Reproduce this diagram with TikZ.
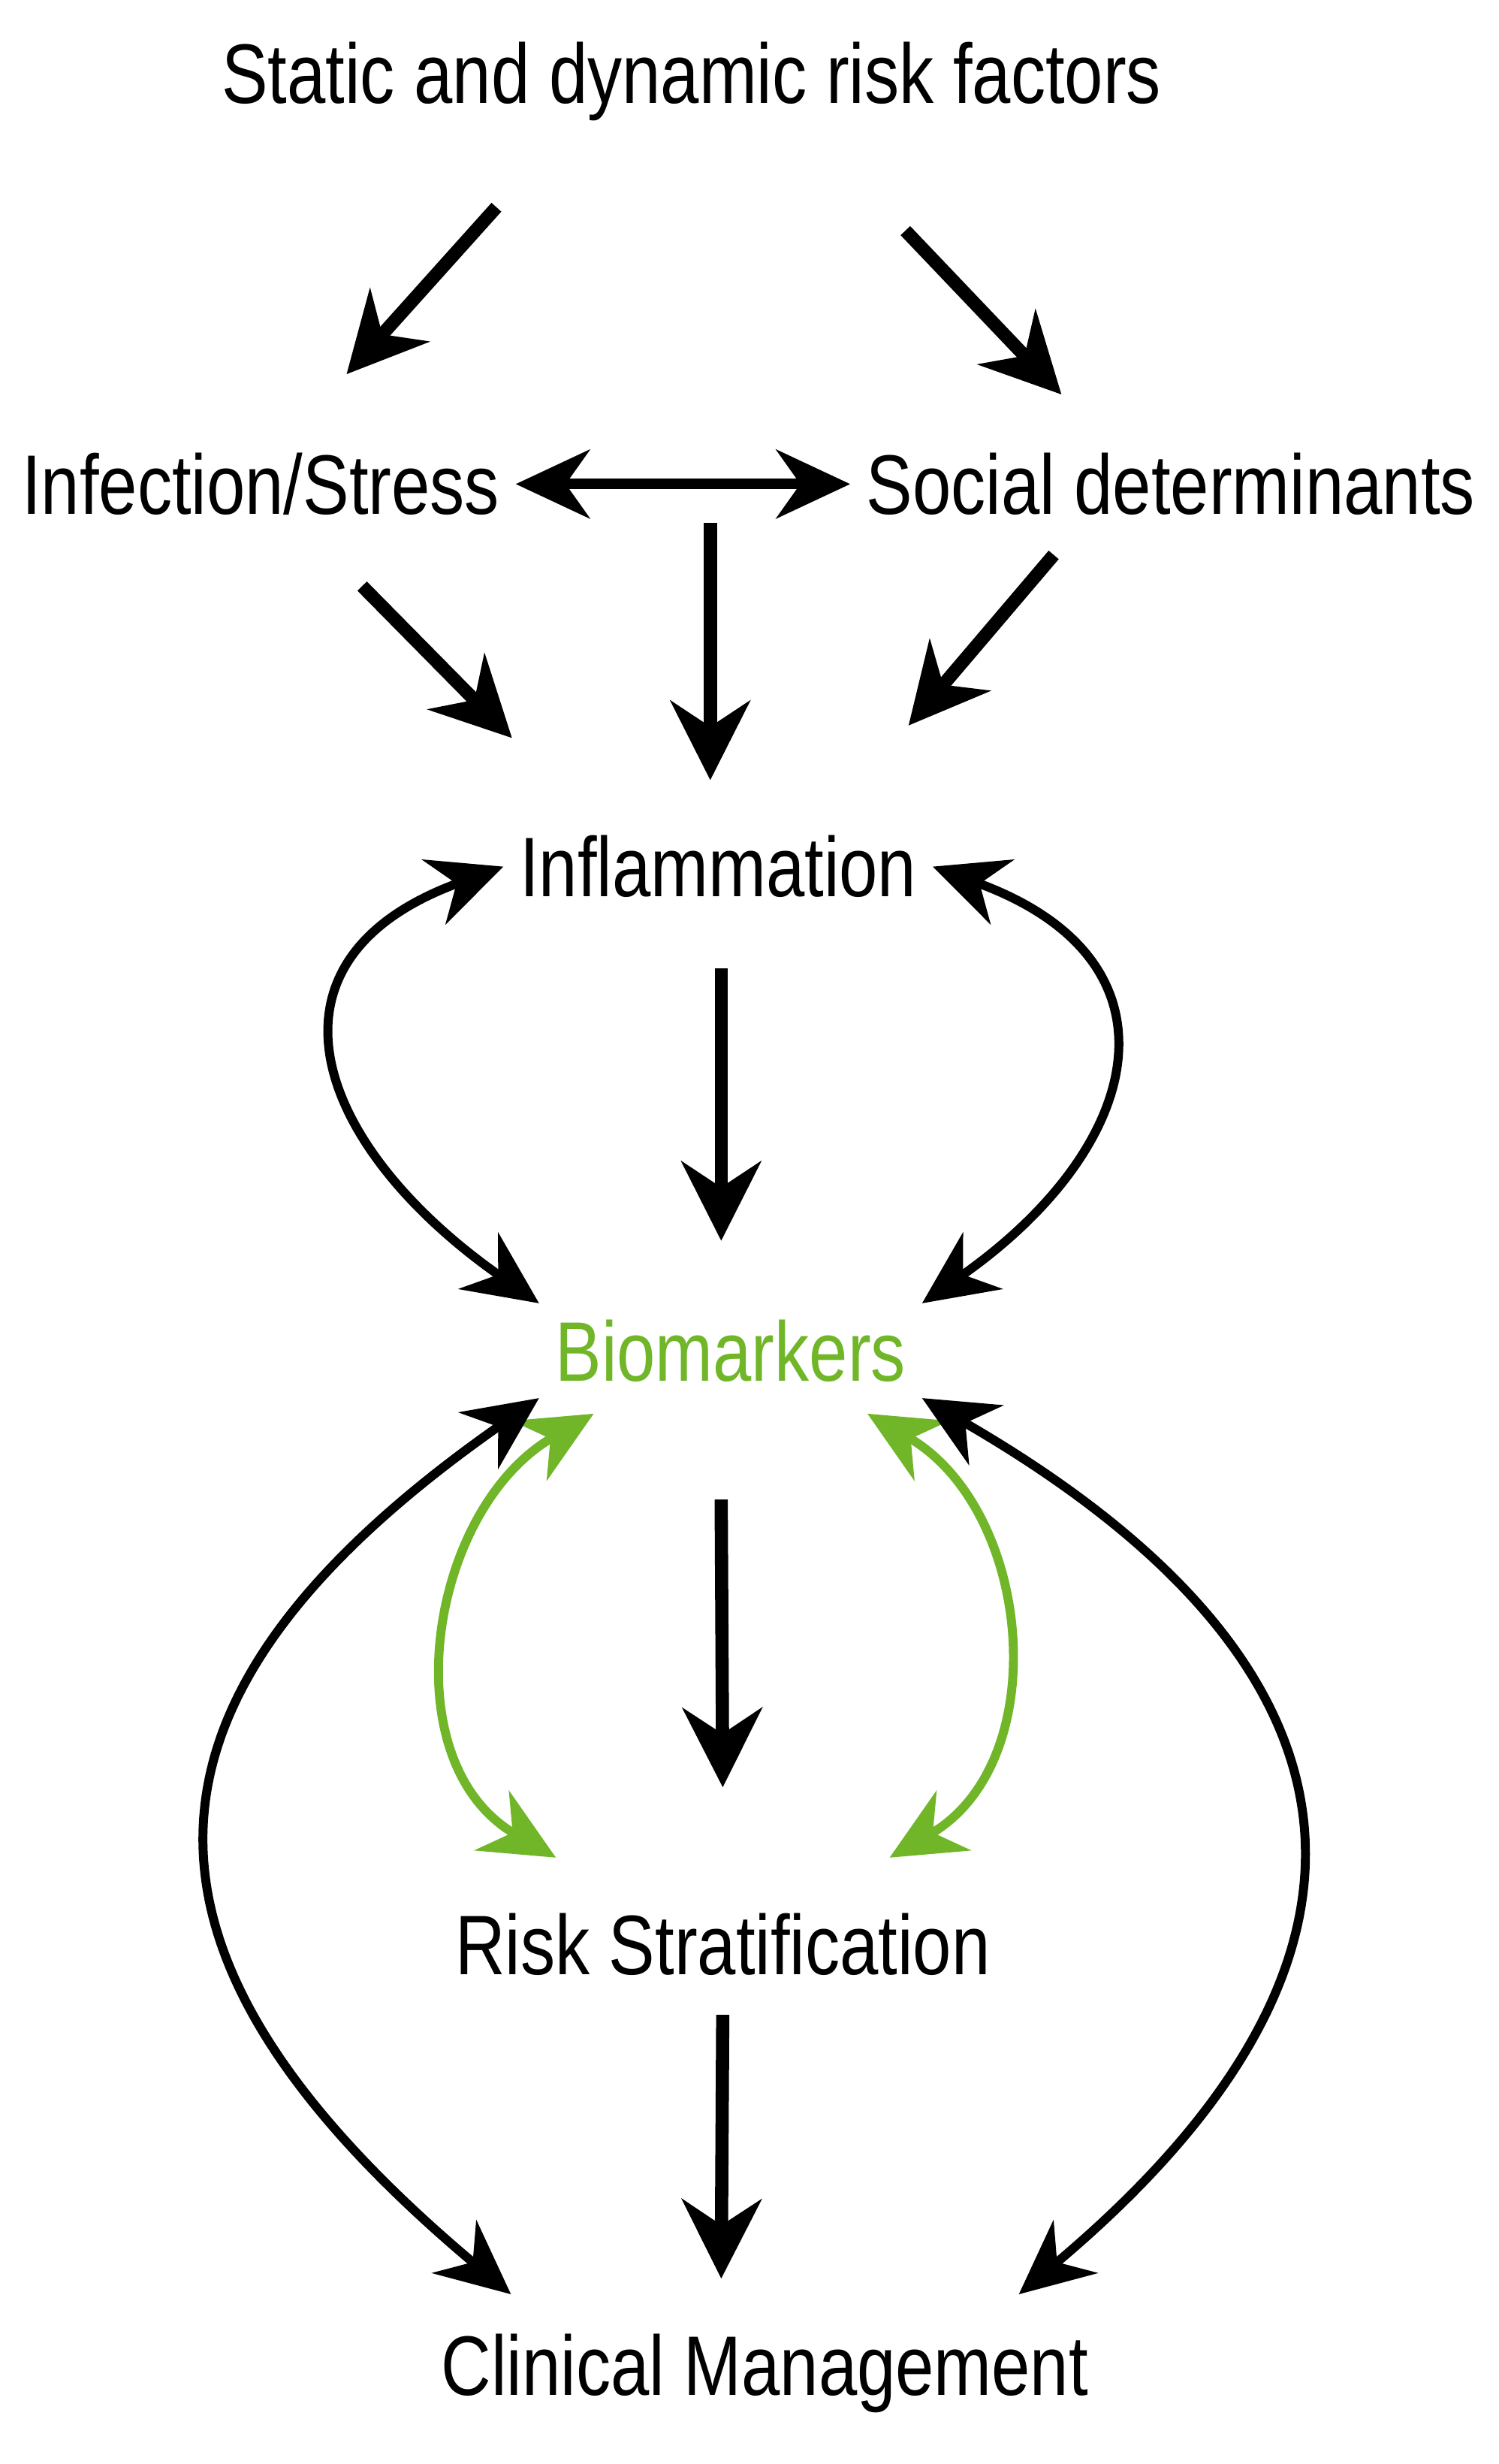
\documentclass[tikz,border=0pt]{standalone}
\usepackage{fontspec}
\setmainfont[FakeStretch=0.82]{Liberation Sans}
\usetikzlibrary{arrows.meta,calc}
\definecolor{biogreen}{RGB}{112,182,40}
\begin{document}
\begin{tikzpicture}[x=0.02078cm,y=-0.02078cm,
    lbl/.style={inner sep=6pt,font=\fontsize{32}{36}\selectfont},
    arr/.style={line width=5pt,-{Stealth[length=30pt,width=30pt]}},
    dbl/.style={line width=3.4pt,{Stealth[length=28pt,width=26pt]}-{Stealth[length=28pt,width=26pt]}},
    grn/.style={dbl,biogreen}]
    \useasboundingbox (0,0) rectangle (960,1578);

    % labels
    \node[lbl] (risk) at (443,52) {Static and dynamic risk factors};
    \node[lbl] (infect) at (167,310) {Infection/Stress};
    \node[lbl] (social) at (750,310) {Social determinants};
    \node[lbl] (infl) at (460,555) {Inflammation};
    \node[lbl,text=biogreen] (bio) at (468,865) {Biomarkers};
    \node[lbl] (strat) at (463,1245) {Risk Stratification};
    \node[lbl] (clin) at (490,1520) {Clinical Management};

    % top part
    \draw[arr] ($(risk.south)+(-125,45)$) -- ($(infect.north)+(55,-40)$);
    \draw[arr] ($(risk.south)+(137,60)$) -- ($(social.north)+(-70,-27)$);
    \draw[dbl,line width=4pt] (infect.east) -- (social.west);
    \draw[arr] ($(infect.south)+(65,35)$) -- ($(infl.north)+(-132,-52)$);
    \draw[arr] ($(infl.north)+(-5,-190)$) -- ($(infl.north)+(-5,-25)$);
    \draw[arr] ($(social.south)+(-75,15)$) -- ($(infl.north)+(122,-60)$);

    % middle
    \draw[dbl] (infl.west) to[out=200,in=145,looseness=1.6] (bio.north west);
    \draw[dbl] (infl.east) to[out=-20,in=35,looseness=1.6] (bio.north east);
    \draw[arr] ($(infl.south)+(2,35)$) -- ($(bio.north)+(-6,-40)$);

    % lower
    \draw[arr] ($(bio.south)+(-6,65)$) -- ($(strat.north)+(0,-70)$);
    \draw[grn] ($(bio.south west)+(35,10)$) to[out=210,in=150,looseness=1.1] ($(strat.north west)+(75,-25)$);
    \draw[grn] ($(bio.south east)+(-35,10)$) to[out=-30,in=30,looseness=1.1] ($(strat.north east)+(-75,-25)$);
    \draw[dbl] (bio.south west) to[out=215,in=140,looseness=1.5] ($(clin.north west)+(55,-15)$);
    \draw[dbl] (bio.south east) to[out=-30,in=40,looseness=1.5] ($(clin.north east)+(-55,-15)$);
    \draw[arr] ($(strat.south)+(0,15)$) -- ($(clin.north)+(-28,-25)$);
\end{tikzpicture}
\end{document}
